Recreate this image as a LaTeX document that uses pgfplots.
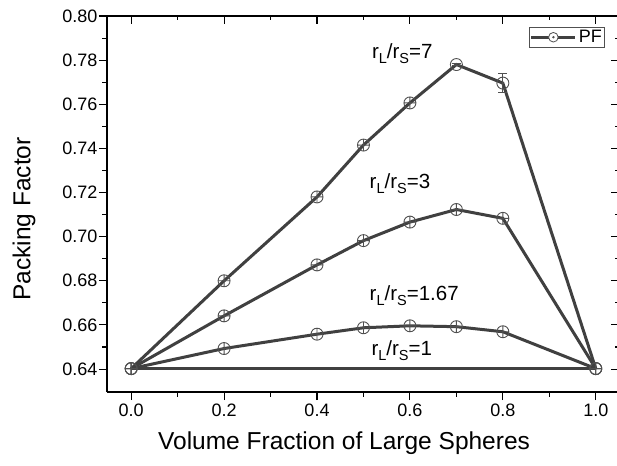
\documentclass[border=0pt]{standalone}
\usepackage{pgfplots}
\pgfplotsset{compat=1.18}
\usepackage{fontspec}
\setmainfont{Liberation Sans}
\usetikzlibrary{plotmarks}
\definecolor{linegray}{HTML}{404040}
\definecolor{markgray}{HTML}{505050}
\newcommand{\sub}[1]{\raisebox{-0.42ex}{\fontsize{14.5}{15}\selectfont #1}}
\newcommand{\rr}{r\sub{L}/r\sub{S}}
\begin{document}
\begin{tikzpicture}
\pgfplotsset{
  common/.style={
    at={(0pt,0pt)}, anchor=south west,
    scale only axis, width=512pt, height=376pt,
    xmin=-0.052, xmax=1.05, ymin=0.6296, ymax=0.80,
    xtick={0,0.2,...,1.0}, ytick={0.64,0.66,...,0.801},
    minor x tick num=1, minor y tick num=1,
    major tick length=8pt, minor tick length=4.5pt,
    every tick/.style={black, line width=1.1pt},
    axis line style={black, line width=1.5pt},
  },
  pm/.style={mark=oplus, mark size=6pt, mark options={fill=white, draw=markgray, line width=0.9pt}},
}
\begin{axis}[common,
  axis x line*=bottom, axis y line*=left,
  tick align=outside,
  /pgf/number format/assume math mode=true,
  xticklabel style={font=\fontsize{18}{21}\selectfont, /pgf/number format/.cd, fixed, fixed zerofill, precision=1},
  yticklabel style={font=\fontsize{18}{21}\selectfont, inner sep=1.5pt, /pgf/number format/.cd, fixed, fixed zerofill, precision=2},
  xlabel={Volume Fraction of Large Spheres},
  ylabel={Packing Factor},
  every axis x label/.style={at={(axis description cs:0.463,-0.136)}, anchor=center, font=\fontsize{24.5}{28}\selectfont},
  every axis y label/.style={at={(axis description cs:-0.162,0.46)}, anchor=center, rotate=90, font=\fontsize{24.5}{28}\selectfont},
  clip=false,
  legend style={at={(axis description cs:0.973,0.971)}, anchor=north east, draw=markgray, line width=0.8pt, font=\fontsize{18}{20}\selectfont, inner sep=1pt, row sep=0pt},
  legend cell align=left,
  legend image code/.code={
    \draw[line width=2.8pt, linegray] (0pt,0pt) -- (44pt,0pt);
    \draw[line width=0.8pt, draw=markgray, fill=white] (22pt,0pt) circle (4.8pt);
    \fill[markgray] (22pt,0pt) circle (0.8pt);
  },
]
% r=1
\addplot[line width=3pt, color=linegray, forget plot] coordinates {(0,0.6402) (1.0,0.6402)};
% r=1.67
\addplot[line width=3pt, color=linegray, pm, forget plot]
  coordinates {(0,0.6402) (0.2,0.6493) (0.4,0.6558) (0.5,0.6587) (0.6,0.6596) (0.7,0.6592) (0.8,0.6569) (1.0,0.6402)};
% r=3
\addplot[line width=3pt, color=linegray, pm, forget plot]
  coordinates {(0,0.6402) (0.2,0.6641) (0.4,0.6872) (0.5,0.6982) (0.6,0.7066) (0.7,0.7123) (0.8,0.7083) (1.0,0.6402)};
% r=7
\addplot[line width=3pt, color=linegray, pm, forget plot]
  coordinates {(0,0.6402) (0.2,0.6800) (0.4,0.7180) (0.5,0.7415) (0.6,0.7606)};
\addplot[line width=3pt, color=linegray, forget plot]
  coordinates {(0.6,0.7606) (0.7,0.7780) (0.8,0.7696) (1.0,0.6402)};
\addplot[only marks, pm, forget plot]
  coordinates {(1.0,0.6402)};
% circle-dot points with error bars
\addplot[forget plot, only marks, mark=o, mark size=6pt, mark options={fill=white, draw=markgray, line width=0.9pt},
  error bars/.cd, y dir=both, y explicit, error bar style={markgray, line width=0.9pt}, error mark options={rotate=90, mark size=4.5pt, markgray, line width=0.9pt}]
  coordinates {(0.7,0.7780) +- (0,0.0005) (0.8,0.7696) +- (0,0.0042)};
\addplot[forget plot, only marks, mark=*, mark size=0.8pt, color=markgray]
  coordinates {(0.7,0.7780) (0.8,0.7696)};
\addlegendimage{}
\addlegendentry{PF}
\node[anchor=west, font=\fontsize{20.5}{23}\selectfont, inner sep=0pt] at (axis cs:0.518,0.7830) {\rr=7};
\node[anchor=west, font=\fontsize{20.5}{23}\selectfont, inner sep=0pt] at (axis cs:0.513,0.7240) {\rr=3};
\node[anchor=west, font=\fontsize{20.5}{23}\selectfont, inner sep=0pt] at (axis cs:0.513,0.6733) {\rr=1.67};
\node[anchor=west, font=\fontsize{20.5}{23}\selectfont, inner sep=0pt] at (axis cs:0.517,0.6483) {\rr=1};
\end{axis}
\begin{axis}[common,
  axis x line*=top, axis y line*=right,
  tick align=inside,
  xticklabels={}, yticklabels={},
]
\end{axis}
\pgfresetboundingbox
\useasboundingbox (-107pt,-73pt) rectangle (510pt,392pt);
\end{tikzpicture}
\end{document}
